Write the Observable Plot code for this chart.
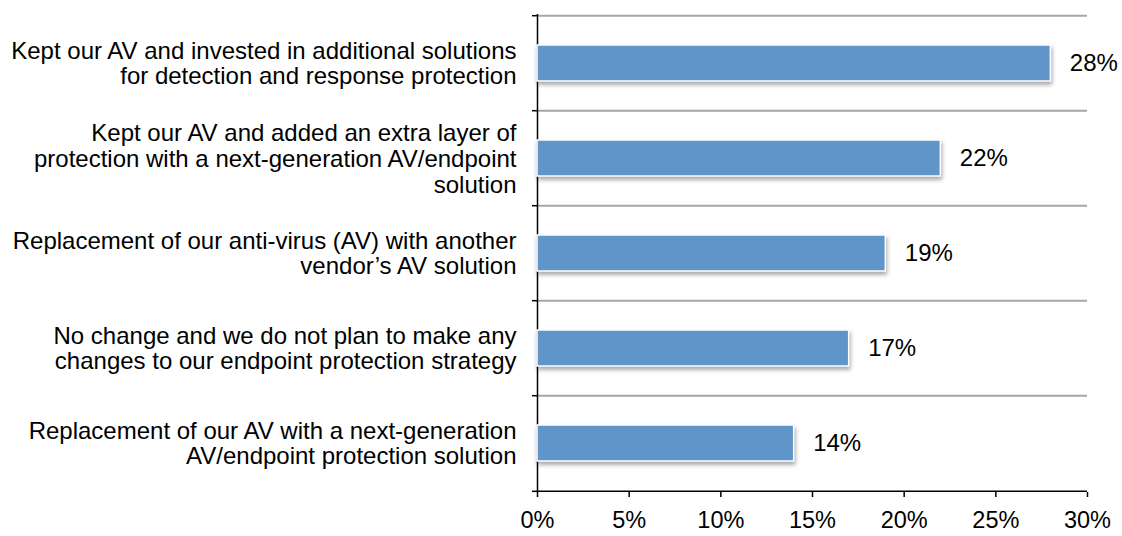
<!DOCTYPE html>
<html><head><meta charset="utf-8">
<script src="https://cdn.jsdelivr.net/npm/d3@7"></script>
<script src="https://cdn.jsdelivr.net/npm/@observablehq/plot@0.6"></script>
<style>body{margin:0;background:#fff}</style>
</head><body><div id="chart"></div>
<script>
const categories = [
  "Kept our AV and invested in additional solutions\nfor detection and response protection",
  "Kept our AV and added an extra layer of\nprotection with a next-generation AV/endpoint\nsolution",
  "Replacement of our anti-virus (AV) with another\nvendor’s AV solution",
  "No change and we do not plan to make any\nchanges to our endpoint protection strategy",
  "Replacement of our AV with a next-generation\nAV/endpoint protection solution"
];
const values = [28, 22, 19, 17, 14];
const xTicks = [0, 5, 10, 15, 20, 25, 30];
const data = categories.map((c, i) => ({c, v: values[i]}));

const W = 1122, H = 536, mt = 14, mb = 44, ml = 537, mr = 35;
const step = (H - mt - mb) / categories.length;
const font = "'Liberation Sans', Arial, Helvetica, sans-serif";
const pct = d => d + "%";
const last = [categories[categories.length - 1]];
const threeLine = categories.filter(c => c.split("\n").length > 2);
const twoLine = categories.filter(c => c.split("\n").length <= 2);

const chart = Plot.plot({
  width: W, height: H,
  marginTop: mt, marginBottom: mb, marginLeft: ml, marginRight: mr,
  style: {fontFamily: font, fontSize: "24px", color: "#000", background: "#fff", overflow: "visible"},
  x: {domain: [0, 30], ticks: xTicks, tickFormat: pct, label: null},
  y: {domain: categories, paddingInner: 0.62, paddingOuter: 0.31, label: null},
  marks: [
    Plot.ruleY(categories, {y: d => d, dy: -step / 2, stroke: "#a6a6a6", strokeWidth: 2}),
    Plot.ruleY(last, {y: d => d, dy: step / 2, stroke: "#000", strokeWidth: 1.5}),
    Plot.ruleY(categories, {y: d => d, dy: -step / 2, x1: 0, x2: 0, insetLeft: -5, stroke: "#000", strokeWidth: 1.5}),
    Plot.ruleY(last, {y: d => d, dy: step / 2, x1: 0, x2: 0, insetLeft: -5, stroke: "#000", strokeWidth: 1.5}),
    Plot.ruleX([0], {stroke: "#000", strokeWidth: 1.5}),
    Plot.barX(data, {x: "v", y: "c", fill: "#5f95c8", stroke: "#fff", strokeWidth: 1.5}),
    Plot.text(data, {x: "v", y: "c", text: d => pct(d.v), dx: 19, textAnchor: "start", fontSize: 24, fill: "#000"}),
    Plot.axisX({ticks: xTicks, tickFormat: pct, tickSize: 5, tickPadding: 14, stroke: "#000", strokeWidth: 1.5, fontSize: 23.5, fill: "#000", label: null}),
    Plot.axisY({ticks: twoLine, tickSize: 0, tickPadding: 21, fontSize: 24, lineHeight: 1.06, fill: "#000", label: null}),
    Plot.axisY({ticks: threeLine, tickSize: 0, tickPadding: 21, fontSize: 24, lineHeight: 1.1, fill: "#000", label: null})
  ]
});
chart.querySelectorAll('g[aria-label="bar"]').forEach(g => {
  g.style.filter = "drop-shadow(1px 3px 2px rgba(0,0,0,0.35))";
});
document.getElementById("chart").appendChild(chart);
</script>
</body></html>
